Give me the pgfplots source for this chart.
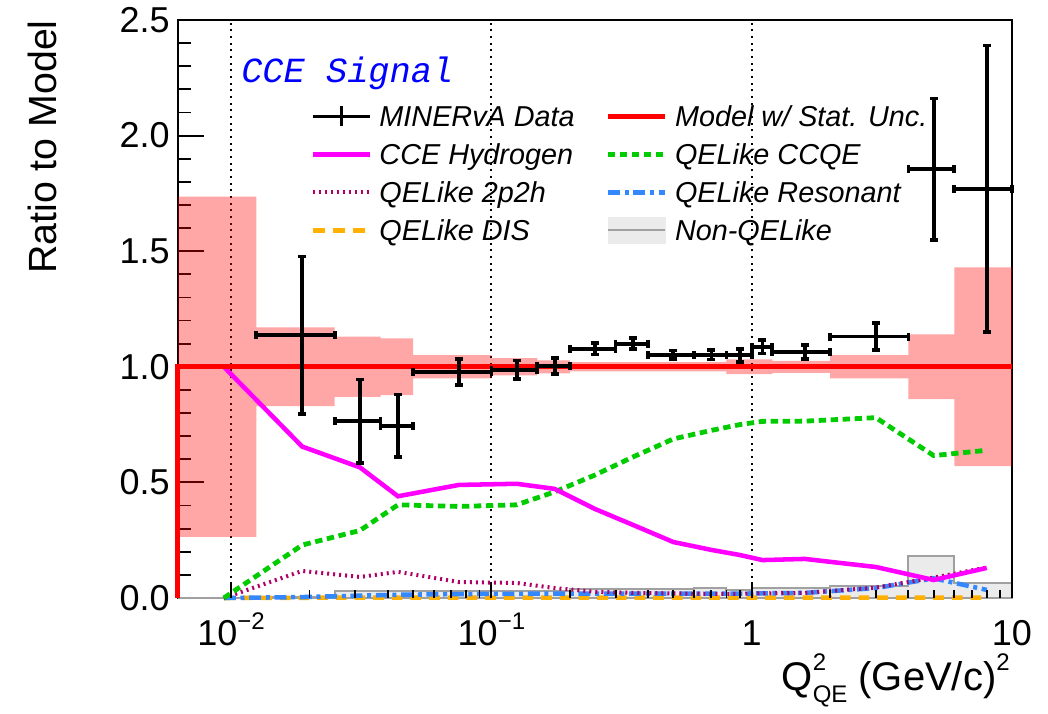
\documentclass[border=0pt]{standalone}
\usepackage{fontspec}
\setmainfont{Liberation Sans}
\newfontfamily\monofont{Liberation Mono}
\usepackage{pgfplots}
\usepackage{pgfplotstable}
\pgfplotsset{compat=1.18}

\definecolor{cceblue}{RGB}{0,0,255}
\definecolor{hyd}{RGB}{255,0,255}
\definecolor{ccqe}{RGB}{0,204,0}
\definecolor{mec}{RGB}{176,0,102}
\definecolor{res}{RGB}{51,136,255}
\definecolor{dis}{RGB}{255,176,0}
\definecolor{nonqe}{RGB}{235,235,235}
\definecolor{nonqeline}{RGB}{160,160,160}

\pgfplotstableread{
x        hyd   ccqe  mec   res   dis
0.009375 1.000 0.000 0.000 0.000 0.000
0.01875  0.655 0.229 0.117 0.004 0.001
0.03125  0.565 0.292 0.091 0.010 0.002
0.04375  0.440 0.403 0.113 0.014 0.002
0.075    0.489 0.396 0.069 0.017 0.002
0.125    0.494 0.403 0.065 0.018 0.002
0.175    0.472 0.459 0.043 0.019 0.002
0.25     0.385 0.532 0.027 0.019 0.002
0.35     0.316 0.610 0.022 0.019 0.002
0.5      0.242 0.688 0.020 0.019 0.002
0.7      0.208 0.725 0.018 0.019 0.002
0.9      0.186 0.750 0.018 0.019 0.002
1.1      0.164 0.764 0.020 0.020 0.002
1.6      0.169 0.765 0.022 0.022 0.002
3        0.134 0.780 0.045 0.043 0.002
5        0.078 0.616 0.088 0.085 0.002
8        0.130 0.639 0.132 0.035 0.002
}\curves

\pgfplotstableread{
x       y     ex      ey
0.01875 1.137 0.00625 0.340
0.03125 0.765 0.00625 0.180
0.04375 0.745 0.00625 0.135
0.075   0.978 0.025   0.056
0.125   0.987 0.025   0.040
0.175   1.004 0.025   0.035
0.25    1.078 0.05    0.025
0.35    1.100 0.05    0.023
0.5     1.052 0.1     0.018
0.7     1.052 0.1     0.020
0.9     1.050 0.1     0.028
1.1     1.087 0.1     0.030
1.6     1.065 0.4     0.030
3       1.131 1       0.057
5       1.855 1       0.305
8       1.770 2       0.620
}\data

\begin{document}
\begin{tikzpicture}
\useasboundingbox (-133.5pt,-86.25pt) rectangle (652.5pt,448.5pt);
\begin{axis}[
  at={(0pt,0pt)}, anchor=south west,
  scale only axis, width=625.5pt, height=433.5pt,
  xmode=log, xmin=0.00625, xmax=10, ymin=0, ymax=2.5,
  clip=false,
  axis line style={line width=1.8pt},
  tick align=inside, tick pos=left,
  tick style={line width=1.4pt, black},
  major tick length=20pt, minor tick length=10pt,
  xmajorticks=false, xminorticks=false,
  xtick={0.01,0.1,1,10}, xticklabels={},
  xmajorgrids, grid style={black, line width=1.4pt, dash pattern=on 1.4pt off 3.6pt},
  ytick={0,0.5,1,1.5,2,2.5}, minor y tick num=4,
  yticklabel style={anchor=east, inner xsep=0pt, xshift=-6pt, font=\fontsize{27}{30}\selectfont,
    /pgf/number format/fixed, /pgf/number format/fixed zerofill, /pgf/number format/precision=1},
  /pgf/number format/assume math mode=true,
  legend columns=2, legend cell align=left,
  legend image code/.code={\draw[#1] (0pt,0pt) -- (43pt,0pt);},
  legend style={at={(axis description cs:0.1583,0.8604)}, anchor=north west,
    draw=none, fill=none, inner sep=0pt, row sep=5.5pt,
    font=\fontsize{21.6}{24}\selectfont\itshape,
    nodes={inner xsep=0pt, inner ysep=2pt, text height=17pt, text depth=2pt},
    /tikz/every odd column/.append style={column sep=5.5pt},
    /tikz/every even column/.append style={column sep=23pt}},
]
% Non-QELike
\addplot[forget plot, const plot, fill=nonqe, draw=nonqeline, line width=1.5pt] coordinates {
 (0.00625,0) (0.0125,0.005) (0.025,0.03) (0.0375,0.03) (0.05,0.03) (0.1,0.03) (0.15,0.03)
 (0.2,0.039) (0.3,0.039) (0.4,0.039) (0.6,0.043) (0.8,0.035) (1.0,0.045) (1.2,0.043)
 (2,0.052) (4,0.18) (6,0.065) (10,0.065)} \closedcycle;
% Model stat. band
\addplot[forget plot, draw=none, fill=red, fill opacity=0.35] coordinates {
 (0.00625,1.736) (0.0125,1.736) (0.0125,1.17) (0.025,1.17) (0.025,1.13) (0.0375,1.13)
 (0.0375,1.123) (0.05,1.123) (0.05,1.05) (0.1,1.05) (0.1,1.037) (0.15,1.037)
 (0.15,1.028) (0.2,1.028) (0.2,1.02) (0.8,1.02) (0.8,1.032) (1.2,1.032) (1.2,1.026)
 (2,1.026) (2,1.05) (4,1.05) (4,1.14) (6,1.14) (6,1.43) (10,1.43)
 (10,0.57) (6,0.57) (6,0.86) (4,0.86) (4,0.95) (2,0.95) (2,0.974) (1.2,0.974)
 (1.2,0.968) (0.8,0.968) (0.8,0.98) (0.2,0.98) (0.2,0.972) (0.15,0.972) (0.15,0.963)
 (0.1,0.963) (0.1,0.95) (0.05,0.95) (0.05,0.877) (0.0375,0.877) (0.0375,0.87)
 (0.025,0.87) (0.025,0.83) (0.0125,0.83) (0.0125,0.264) (0.00625,0.264)} --cycle;
% components
\addplot[forget plot, dis, line width=3.4pt, dash pattern=on 8pt off 6pt] table[x=x,y=dis] {\curves};
\addplot[forget plot, res, line width=3.4pt, dash pattern=on 9pt off 3.5pt on 3pt off 3.5pt] table[x=x,y=res] {\curves};
\addplot[forget plot, mec, line width=3pt, dash pattern=on 1.5pt off 3pt] table[x=x,y=mec] {\curves};
\addplot[forget plot, ccqe, line width=3.6pt, dash pattern=on 5.5pt off 3.5pt] table[x=x,y=ccqe] {\curves};
\addplot[forget plot, hyd, line width=3.4pt] table[x=x,y=hyd] {\curves};
% model line
\addplot[forget plot, red, line width=3.75pt] coordinates {(0.00625,0) (0.00625,1) (10,1)};
% data: error bars
\addplot[forget plot, black, line width=2.8pt, only marks, mark=*, mark size=0.01pt,
  error bars/.cd, x dir=both, x explicit, y dir=both, y explicit,
  error bar style={line width=2.8pt, black}, error mark=none]
  table[x=x, y=y, x error=ex, y error=ey] {\data};
% data: end caps
\addplot[forget plot, black, only marks, mark=-, mark size=3pt, mark options={line width=2.8pt}]
  table[x=x, y expr=\thisrow{y}+\thisrow{ey}] {\data};
\addplot[forget plot, black, only marks, mark=-, mark size=3pt, mark options={line width=2.8pt}]
  table[x=x, y expr=\thisrow{y}-\thisrow{ey}] {\data};
\addplot[forget plot, black, only marks, mark=|, mark size=3pt, mark options={line width=2.8pt}]
  table[x expr=\thisrow{x}+\thisrow{ex}, y=y] {\data};
\addplot[forget plot, black, only marks, mark=|, mark size=3pt, mark options={line width=2.8pt}]
  table[x expr=\thisrow{x}-\thisrow{ex}, y=y] {\data};
% legend
\addlegendimage{legend image code/.code={\draw[black,line width=2.3pt] (0pt,0pt) -- (43pt,0pt) (21.5pt,-7.5pt) -- (21.5pt,7.5pt);}}
\addlegendentry{MINERvA Data}
\addlegendimage{red, line width=3.75pt}
\addlegendentry{Model w/ Stat. Unc.}
\addlegendimage{hyd, line width=3.4pt}
\addlegendentry{CCE Hydrogen}
\addlegendimage{ccqe, line width=3.6pt, dash pattern=on 5.5pt off 3.5pt}
\addlegendentry{QELike CCQE}
\addlegendimage{mec, line width=3pt, dash pattern=on 1.5pt off 3pt}
\addlegendentry{QELike 2p2h}
\addlegendimage{res, line width=3.4pt, dash pattern=on 9pt off 3.5pt on 3pt off 3.5pt}
\addlegendentry{QELike Resonant}
\addlegendimage{dis, line width=3.4pt, dash pattern=on 9pt off 6pt}
\addlegendentry{QELike DIS}
\addlegendimage{legend image code/.code={\fill[nonqe] (0pt,-9.75pt) rectangle (43pt,9.75pt); \draw[nonqeline, line width=1.2pt] (0pt,0pt) -- (43pt,0pt);}}
\addlegendentry{Non-QELike}
\end{axis}
\begin{axis}[
  at={(0pt,0pt)}, anchor=south west,
  scale only axis, width=625.5pt, height=433.5pt,
  xmode=log, xmin=0.00625, xmax=10, ymin=0, ymax=2.5,
  axis line style={draw=none},
  tick align=inside, tick pos=left,
  tick style={line width=1.4pt, black},
  major tick length=12pt, minor tick length=6pt,
  xtick={0.01,0.1,1,10},
  xticklabels={10\raisebox{0.42em}{\fontsize{18}{18}\selectfont −2},10\raisebox{0.42em}{\fontsize{18}{18}\selectfont −1},1,10},
  xticklabel style={anchor=base, yshift=-35.25pt, font=\fontsize{27}{30}\selectfont},
  ytick=\empty, ymajorticks=false, yminorticks=false,
]
\end{axis}
\node[rotate=90, anchor=base east, inner sep=0pt, font=\fontsize{29.5}{31}\selectfont] at (-90.75pt,433.5pt) {Ratio to Model};
\node[anchor=base east, inner sep=0pt, font=\fontsize{30}{32}\selectfont] at (624pt,-69pt)
  {Q\rlap{\raisebox{0.48em}{\fontsize{18}{18}\selectfont 2}}\raisebox{-0.3em}{\fontsize{18}{18}\selectfont QE} (GeV/c)\raisebox{0.48em}{\fontsize{18}{18}\selectfont 2}};
\node[anchor=base west, inner sep=0pt, text=cceblue, font=\monofont\itshape\fontsize{26.5}{28}\selectfont] at (47.25pt,386.25pt) {CCE Signal};
\end{tikzpicture}
\end{document}
